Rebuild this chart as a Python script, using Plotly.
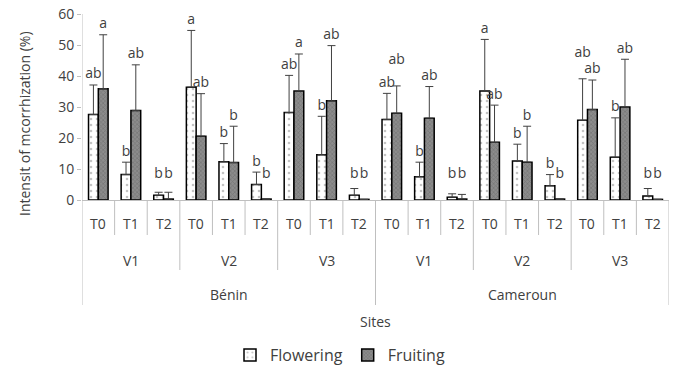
import plotly.graph_objects as go

# ---------------- data ----------------
sites = ["Bénin", "Cameroun"]
varieties = ["V1", "V2", "V3"]
treatments = ["T0", "T1", "T2"]

flowering = [27.6, 8.2, 1.5, 36.4, 12.3, 5.0, 28.2, 14.6, 1.5,
             26.0, 7.5, 0.9, 35.2, 12.6, 4.6, 25.7, 13.8, 1.3]
flowering_top = [37.1, 12.2, 2.5, 54.7, 18.2, 9.0, 40.2, 27.0, 3.7,
                 34.4, 12.2, 2.0, 51.8, 18.0, 8.2, 39.1, 26.5, 3.7]
fruiting = [35.9, 28.9, 0.3, 20.6, 12.1, 0.3, 35.2, 32.0, 0.2,
            28.0, 26.4, 0.3, 18.6, 12.2, 0.3, 29.2, 30.0, 0.2]
fruiting_top = [53.3, 43.6, 2.5, 34.3, 23.8, 0.3, 47.1, 49.8, 0.2,
                36.8, 36.6, 1.8, 30.6, 23.8, 0.3, 38.7, 45.4, 0.2]
flowering_letters = ["ab", "b", "b", "a", "b", "b", "ab", "b", "b",
                     "ab", "b", "b", "a", "b", "b", "ab", "b", "b"]
fruiting_letters = ["a", "ab", "b", "ab", "b", "b", "a", "ab", "b",
                    "ab", "ab", "b", "ab", "b", "b", "ab", "ab", "b"]

# ---------------- geometry / style ----------------
OFF = 0                       # body margin removed below via post_script
W, H = 678 - OFF, 366 - OFF
PL, PR, PT, PB = 82, 669, 14, 200          # plot area in window pixels
M_L, M_R, M_T, M_B = PL - OFF, W - (PR - OFF), PT - OFF, H - (PB - OFF)
PLOT_W, PLOT_H = PR - PL, PB - PT
FONT = "Open Sans"
TXT = "#404040"
AXC = "#bfbfbf"
FS = 14
BARGAP = 0.4
YMAX = 60


def py(p):
    """window pixel row -> paper y"""
    return (PB - p) / PLOT_H


n_t, n_v, n_s = len(treatments), len(varieties), len(sites)
n = n_t * n_v * n_s
xs = list(range(n))
half = (1 - BARGAP) / 4  # offset of each bar's centre from category centre

fl_err = [t - v for t, v in zip(flowering_top, flowering)]
fr_err = [t - v for t, v in zip(fruiting_top, fruiting)]

# letter placement: just above the error bar; stagger when a pair is level
pad = 1.0
floor = 5.0
lift = 5.0
fl_lab_y, fr_lab_y = [], []
for a, b in zip(flowering_top, fruiting_top):
    ya, yb = max(a, floor) + pad, max(b, floor) + pad
    if min(a, b) > 10 and abs(a - b) < 3:
        if a >= b:
            ya += lift
        else:
            yb += lift
    fl_lab_y.append(ya)
    fr_lab_y.append(yb)

fig = go.Figure()
fig.add_trace(go.Bar(
    name="Flowering", x=xs, y=flowering,
    marker=dict(color="white", line=dict(color="black", width=1.5),
                pattern=dict(shape=".", fgcolor="#8a8a8a", bgcolor="white",
                             size=6, solidity=0.15)),
    error_y=dict(type="data", array=fl_err, arrayminus=[0] * n, symmetric=False,
                 color="#404040", thickness=1, width=4),
))
fig.add_trace(go.Bar(
    name="Fruiting", x=xs, y=fruiting,
    marker=dict(color="#7f7f7f", line=dict(color="black", width=1.5),
                pattern=dict(shape="x", fgcolor="#5e5e5e", bgcolor="#8c8c8c",
                             size=3, solidity=0.4)),
    error_y=dict(type="data", array=fr_err, arrayminus=[0] * n, symmetric=False,
                 color="#404040", thickness=1, width=4),
))

# significance letters
fig.add_trace(go.Scatter(
    x=[x - half for x in xs], y=fl_lab_y,
    mode="text", text=flowering_letters, textposition="top center",
    textfont=dict(family=FONT, size=FS, color=TXT), showlegend=False,
    hoverinfo="skip", cliponaxis=False))
fig.add_trace(go.Scatter(
    x=[x + half for x in xs], y=fr_lab_y,
    mode="text", text=fruiting_letters, textposition="top center",
    textfont=dict(family=FONT, size=FS, color=TXT), showlegend=False,
    hoverinfo="skip", cliponaxis=False))

shapes = []
# category separators (three levels)
for k in range(n + 1):
    b = k - 0.5
    if k % (n_t * n_v) == 0:
        y0 = py(305)
    elif k % n_t == 0:
        y0 = py(270)
    else:
        y0 = py(235)
    y1 = 1 if k == 0 else 0
    shapes.append(dict(type="line", xref="x", yref="paper", x0=b, x1=b,
                       y0=y0, y1=y1, line=dict(color=AXC, width=1)))

afont = dict(family=FONT, size=FS, color=TXT)
annotations = []
for i in range(n):
    annotations.append(dict(x=i, y=py(224), xref="x", yref="paper",
                            xanchor="center", yanchor="middle",
                            text=treatments[i % n_t], showarrow=False,
                            font=afont))
for j in range(n_v * n_s):
    annotations.append(dict(x=j * n_t + (n_t - 1) / 2, y=py(260), xref="x",
                            yref="paper", xanchor="center", yanchor="middle",
                            text=varieties[j % n_v], showarrow=False,
                            font=afont))
for s in range(n_s):
    annotations.append(dict(x=s * n_t * n_v + (n_t * n_v - 1) / 2, y=py(294),
                            xref="x", yref="paper", xanchor="center",
                            yanchor="middle", text=sites[s], showarrow=False,
                            font=afont))
annotations.append(dict(x=0.5, y=py(321), xref="paper", yref="paper",
                        xanchor="center", yanchor="middle",
                        text="Sites", showarrow=False, font=afont))
annotations.append(dict(x=(25 - PL) / PLOT_W, y=py(124),
                        xref="paper", yref="paper", textangle=-90,
                        xanchor="center", yanchor="middle",
                        text="Intensit of mcorrhization (%)", showarrow=False,
                        font=afont))

fig.update_layout(
    width=W, height=H,
    margin=dict(l=M_L, r=M_R, t=M_T, b=M_B, autoexpand=False),
    paper_bgcolor="white", plot_bgcolor="white",
    barmode="group", bargap=BARGAP, bargroupgap=0,
    font=dict(family=FONT, size=FS, color=TXT),
    showlegend=True,
    legend=dict(orientation="h", xref="container", yref="container",
                x=(340 - OFF) / W, y=1 - (355 - OFF) / H,
                xanchor="center", yanchor="middle",
                font=dict(family=FONT, size=16, color=TXT),
                itemwidth=30, tracegroupgap=0),
    xaxis=dict(range=[-0.5, n - 0.5], showticklabels=False, showgrid=False,
               zeroline=False, showline=True, linecolor=AXC, linewidth=1,
               ticks=""),
    yaxis=dict(range=[0, YMAX], dtick=10, showgrid=False, zeroline=False,
               showline=False, ticks="outside", ticklen=4, tickcolor=AXC,
               ticklabeloverflow="allow",
               tickfont=dict(family=FONT, size=FS, color=TXT)),
    shapes=shapes, annotations=annotations,
)

fig.write_html("out.html",
               config={"displayModeBar": False},
               post_script="document.body.style.margin='0';")
